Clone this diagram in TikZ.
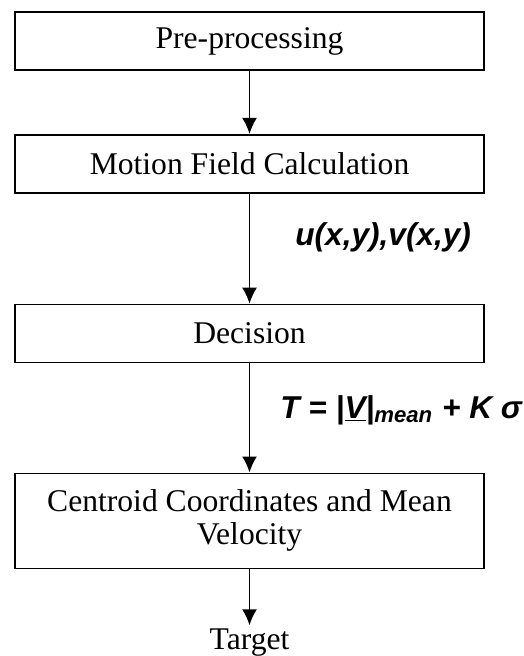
\documentclass[tikz,border=0pt]{standalone}
\usepackage{fontspec}
\setmainfont{Liberation Serif}
\newfontfamily\labelfont{Liberation Sans}
\usetikzlibrary{arrows.meta,positioning}

\begin{document}
\begin{tikzpicture}[x=0.5pt,y=-0.5pt,>={Latex[length=8pt,width=7.5pt]},
 font=\fontsize{15.8}{16.5}\selectfont,
 box/.style={draw,line width=0.9pt,align=center,minimum width=234.5pt,minimum height=29pt,inner sep=0pt},
 link/.style={->,line width=0.9pt},
 lbl/.style={font=\fontsize{15.8}{18}\selectfont\labelfont\bfseries\itshape,inner sep=0pt,anchor=base west}]
\useasboundingbox (0,0) rectangle (523,656);
\node[box] (pre) at (249.5,41) {Pre-processing};
\node[box,below=31.5pt of pre] (motion) {Motion Field Calculation};
\node[box,below=55pt of motion] (decision) {Decision};
\node[box,below=54.5pt of decision,minimum height=47.5pt] (centroid) {Centroid Coordinates and Mean\\Velocity};
\node[below=28pt of centroid,inner sep=1.5pt] (target) {Target};
\draw[link] (pre)--(motion);
\draw[link] (motion)--node[lbl,xshift=22.5pt,yshift=1.5pt] {u(x,y),v(x,y)} (decision);
\draw[link] (decision)--node[lbl,xshift=15pt] {T = |\underline{V}|\textsubscript{mean} + K σ} (centroid);
\draw[link] (centroid)--(target);
\end{tikzpicture}
\end{document}
